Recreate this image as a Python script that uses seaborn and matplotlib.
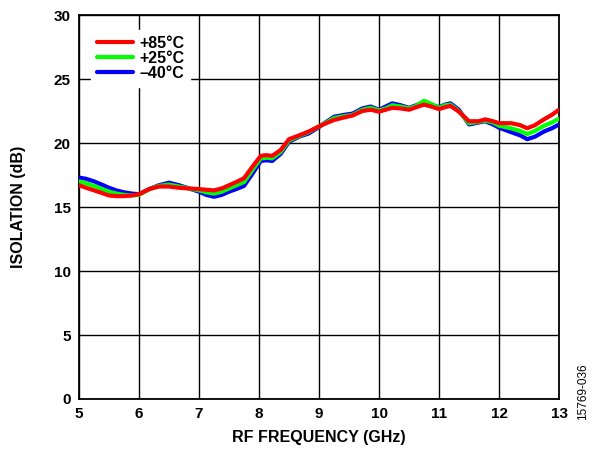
import numpy as np
import pandas as pd
import matplotlib
matplotlib.use("Agg")
import matplotlib.pyplot as plt
import seaborn as sns

# =========================
# DATA
# =========================

freq_ghz = [5.0, 5.12, 5.25, 5.38, 5.5, 5.62, 5.75, 5.88, 6.0, 6.17, 6.33,
            6.5, 6.67, 6.83, 7.0, 7.12, 7.25, 7.38, 7.5, 7.62, 7.75, 7.89,
            8.03, 8.12, 8.22, 8.36, 8.5, 8.67, 8.83, 9.0, 9.12, 9.25, 9.42,
            9.56, 9.72, 9.86, 10.0, 10.11, 10.22, 10.36, 10.5, 10.62, 10.75,
            10.87, 11.0, 11.1, 11.19, 11.33, 11.5, 11.66, 11.77, 11.9, 12.0,
            12.2, 12.35, 12.47, 12.6, 12.75, 12.88, 13.0]

iso_p85 = [16.7, 16.5, 16.3, 16.1, 15.9, 15.85, 15.85, 15.9, 16.0, 16.4, 16.6,
           16.6, 16.5, 16.45, 16.4, 16.35, 16.3, 16.45, 16.7, 16.95, 17.25,
           18.15, 19.0, 19.05, 19.0, 19.45, 20.3, 20.6, 20.9, 21.3, 21.55,
           21.8, 22.0, 22.15, 22.5, 22.6, 22.45, 22.6, 22.75, 22.7, 22.6,
           22.8, 23.0, 22.85, 22.65, 22.8, 22.9, 22.45, 21.7, 21.7, 21.85,
           21.7, 21.55, 21.55, 21.4, 21.15, 21.4, 21.85, 22.2, 22.6]

iso_p25 = [17.0, 16.85, 16.65, 16.4, 16.2, 16.05, 15.95, 15.9, 15.95, 16.4,
           16.65, 16.75, 16.6, 16.45, 16.3, 16.15, 16.05, 16.2, 16.45, 16.7,
           16.95, 17.9, 18.8, 18.85, 18.8, 19.3, 20.2, 20.55, 20.85, 21.3,
           21.6, 21.95, 22.1, 22.2, 22.6, 22.75, 22.55, 22.7, 22.95, 22.85,
           22.7, 22.9, 23.3, 23.05, 22.75, 22.95, 23.0, 22.5, 21.55, 21.65,
           21.75, 21.6, 21.35, 21.15, 20.95, 20.7, 20.95, 21.35, 21.6, 21.9]

iso_m40 = [17.3, 17.2, 17.0, 16.75, 16.5, 16.3, 16.15, 16.05, 16.0, 16.4,
           16.7, 16.9, 16.7, 16.45, 16.2, 15.95, 15.8, 15.95, 16.2, 16.4,
           16.65, 17.6, 18.6, 18.65, 18.6, 19.15, 20.1, 20.5, 20.75, 21.25,
           21.65, 22.05, 22.2, 22.3, 22.7, 22.85, 22.6, 22.85, 23.1, 22.95,
           22.75, 22.95, 23.2, 23.0, 22.8, 23.0, 23.1, 22.6, 21.45, 21.6,
           21.7, 21.45, 21.2, 20.85, 20.6, 20.3, 20.5, 20.9, 21.15, 21.45]

series_labels = ["+85°C", "+25°C", "–40°C"]
series_colors = ["#ff0000", "#00ff00", "#0000ff"]
x_ticks = [5, 6, 7, 8, 9, 10, 11, 12, 13]
y_ticks = [0, 5, 10, 15, 20, 25, 30]

# =========================
# PLOT
# =========================

sns.set_style("white")
plt.rcParams['font.family'] = ['Liberation Sans', 'DejaVu Sans']
plt.rcParams['text.color'] = "black"
plt.rcParams['axes.labelcolor'] = "black"
plt.rcParams['xtick.color'] = "black"
plt.rcParams['ytick.color'] = "black"

fig = plt.figure(figsize=(5.96, 4.51), dpi=100)
ax = fig.add_axes([0.1326, 0.1153, 0.8054, 0.8514])

# blue first so red sits on top
values = [iso_p85, iso_p25, iso_m40]
for i in [2, 1, 0]:
    sns.lineplot(x=freq_ghz, y=values[i], color=series_colors[i],
                 linewidth=3.0, label=series_labels[i], ax=ax,
                 zorder=3 + (2 - i), solid_joinstyle="round",
                 solid_capstyle="round")

ax.set_xlim(5, 13)
ax.set_ylim(0, 30)
ax.set_xticks(x_ticks)
ax.set_yticks(y_ticks)
ax.grid(True, color="black", linewidth=1.0)
ax.tick_params(length=0, pad=6, labelsize=11, colors="black")
for lab in ax.get_xticklabels() + ax.get_yticklabels():
    lab.set_fontweight("bold")
for sp in ax.spines.values():
    sp.set_color("black")
    sp.set_linewidth(1.3)

ax.set_xlabel("RF FREQUENCY (GHz)", fontsize=11.5, fontweight="bold",
              labelpad=6, color="black")
ax.set_ylabel("ISOLATION (dB)", fontsize=11.5, fontweight="bold",
              labelpad=20, color="black")

handles, labels = ax.get_legend_handles_labels()
order = [labels.index(l) for l in series_labels]
leg = ax.legend([handles[k] for k in order], series_labels,
                loc="upper left", bbox_to_anchor=(0.025, 0.96),
                borderaxespad=0, frameon=True, fancybox=False, framealpha=1,
                edgecolor="white", handlelength=2.3, handletextpad=0.4,
                labelspacing=0.0, borderpad=0.35,
                prop={"weight": "bold", "size": 11.5})
leg.set_zorder(10)
for t in leg.get_texts():
    t.set_color("black")

fig.text(0.978, 0.068, "15769-036", rotation=90, fontsize=8.5,
         ha="center", va="bottom", color="black")

plt.savefig("out.png", dpi=100)
